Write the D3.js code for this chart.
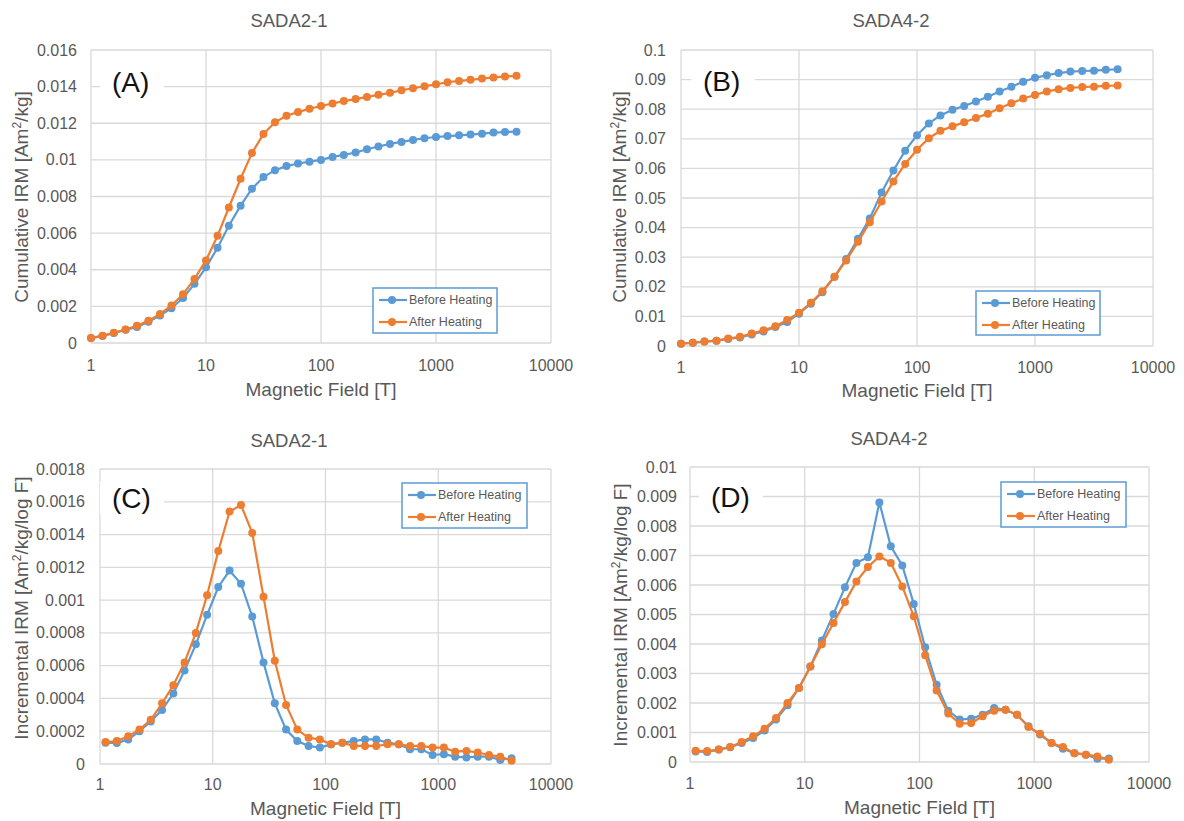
<!DOCTYPE html>
<html><head><meta charset="utf-8">
<script src="https://cdn.jsdelivr.net/npm/d3@7"></script>
<style>
html,body{margin:0;padding:0;background:#fff;}
text{font-family:"Liberation Sans",Arial,sans-serif;}
</style></head>
<body>
<svg id="chart" width="1184" height="821"></svg>
<script>
// ---------- data ----------
const cumFields = [1,1.26,1.58,2,2.51,3.16,3.98,5.01,6.31,7.94,10,12.6,15.8,20,25.1,31.6,39.8,50.1,63.1,79.4,100,126,158,200,251,316,398,501,631,794,1000,1259,1585,1995,2512,3162,3981,5012];
const incFields = [1.12,1.41,1.78,2.24,2.82,3.55,4.47,5.62,7.08,8.91,11.2,14.1,17.8,22.4,28.2,35.5,44.7,56.2,70.8,89.1,112,141,178,224,282,355,447,562,708,891,1122,1413,1778,2239,2818,3548,4467];

const cumA_before = [0.00027,0.00038,0.00054,0.00072,0.00087,0.00116,0.0015,0.0019,0.00246,0.00323,0.00413,0.0052,0.0064,0.0075,0.00843,0.00906,0.00944,0.00966,0.0098,0.0099,0.0100,0.01016,0.01027,0.0104,0.01058,0.01073,0.01087,0.01098,0.01109,0.01118,0.01125,0.0113,0.01134,0.01138,0.01143,0.01149,0.01152,0.01154];
const cumA_after = [0.00027,0.0004,0.00056,0.00074,0.00094,0.00121,0.00158,0.00205,0.00266,0.0035,0.00451,0.00585,0.0074,0.00897,0.01038,0.01141,0.01205,0.01241,0.01261,0.01279,0.01294,0.01308,0.01321,0.01332,0.01344,0.01355,0.01366,0.0138,0.01391,0.01402,0.01413,0.01424,0.01431,0.01437,0.01444,0.0145,0.01455,0.01459];

const cumB_before = [0.0008,0.0011,0.0015,0.0018,0.0024,0.0029,0.0039,0.0049,0.0064,0.0081,0.0109,0.0143,0.0182,0.0234,0.0294,0.0362,0.0431,0.0519,0.0593,0.066,0.0712,0.0752,0.0779,0.0798,0.0811,0.0826,0.0842,0.086,0.0876,0.0893,0.0906,0.0915,0.0922,0.0927,0.0929,0.093,0.0933,0.0935];
const cumB_after = [0.0008,0.0011,0.0015,0.0018,0.0025,0.0031,0.0042,0.0053,0.0067,0.0088,0.0112,0.0146,0.0185,0.0234,0.0289,0.0352,0.0418,0.0488,0.0556,0.0615,0.0663,0.0702,0.0727,0.0742,0.0756,0.077,0.0785,0.0803,0.082,0.0836,0.0848,0.086,0.0867,0.0872,0.0875,0.0876,0.0879,0.088];

const incC_before = [0.00013,0.000128,0.00015,0.0002,0.00026,0.00033,0.00043,0.00057,0.00073,0.00091,0.00108,0.00118,0.0011,0.0009,0.00062,0.00037,0.00021,0.00014,0.00011,0.0001,0.00012,0.00013,0.00014,0.00015,0.00015,0.00013,0.00012,0.00009,0.00009,0.000055,0.00006,0.000045,0.00004,0.000045,0.000045,0.000025,0.000035];
const incC_after = [0.000134,0.00014,0.00017,0.00021,0.00027,0.00037,0.00048,0.00062,0.0008,0.00103,0.0013,0.00154,0.00158,0.00141,0.00102,0.00063,0.00036,0.00021,0.00016,0.00015,0.00012,0.00013,0.00011,0.00011,0.00011,0.00012,0.00012,0.00011,0.00011,0.0001,0.0001,0.000075,0.00008,0.00007,0.000055,0.000045,0.00002];

const incD_before = [0.00036,0.00034,0.00042,0.0005,0.00064,0.00081,0.00107,0.00144,0.00192,0.00251,0.00324,0.00412,0.00502,0.00592,0.00675,0.00694,0.0088,0.00731,0.00666,0.00536,0.00389,0.00262,0.00174,0.00144,0.00147,0.0016,0.00183,0.00177,0.0016,0.00121,0.00093,0.00064,0.00045,0.0003,0.00025,0.00011,0.00012];
const incD_after = [0.00038,0.00037,0.00042,0.00051,0.00068,0.00087,0.00113,0.00149,0.002,0.00251,0.00324,0.00399,0.00471,0.00542,0.00612,0.00661,0.00697,0.00675,0.00595,0.00494,0.00362,0.00242,0.00164,0.0013,0.00132,0.00155,0.00174,0.00177,0.0016,0.00119,0.00096,0.00064,0.00051,0.0003,0.00025,0.00019,0.00008];

const xTicks = [1,10,100,1000,10000];
const xTickLabels = ["1","10","100","1000","10000"];
const yTicksA = [0,0.002,0.004,0.006,0.008,0.01,0.012,0.014,0.016];
const yTickLabelsA = ["0","0.002","0.004","0.006","0.008","0.01","0.012","0.014","0.016"];
const yTicksB = [0,0.01,0.02,0.03,0.04,0.05,0.06,0.07,0.08,0.09,0.1];
const yTickLabelsB = ["0","0.01","0.02","0.03","0.04","0.05","0.06","0.07","0.08","0.09","0.1"];
const yTicksC = [0,0.0002,0.0004,0.0006,0.0008,0.001,0.0012,0.0014,0.0016,0.0018];
const yTickLabelsC = ["0","0.0002","0.0004","0.0006","0.0008","0.001","0.0012","0.0014","0.0016","0.0018"];
const yTicksD = [0,0.001,0.002,0.003,0.004,0.005,0.006,0.007,0.008,0.009,0.01];
const yTickLabelsD = ["0","0.001","0.002","0.003","0.004","0.005","0.006","0.007","0.008","0.009","0.01"];

const seriesNames = ["Before Heating","After Heating"];
const seriesColors = ["#5b9bd5","#ed7d31"];
const panelTitles = ["SADA2-1","SADA4-2","SADA2-1","SADA4-2"];
const panelLetters = ["(A)","(B)","(C)","(D)"];
const xTitle = "Magnetic Field [T]";

// ---------- drawing ----------
const svg = d3.select("#chart");
svg.append("rect").attr("width",1184).attr("height",821).attr("fill","#fff");
const GREY = "#595959", GRID = "#d9d9d9";

function drawPanel(o){
  const g = svg.append("g");
  const x = d3.scaleLog().domain([1,10000]).range([o.left,o.right]);
  const y = d3.scaleLinear().domain([0,o.yTicks[o.yTicks.length-1]]).range([o.bottom,o.top]);

  // gridlines
  g.selectAll(".hg").data(o.yTicks).join("line")
    .attr("x1",o.left).attr("x2",o.right)
    .attr("y1",d=>y(d)).attr("y2",d=>y(d))
    .attr("stroke",GRID).attr("stroke-width",1.3);
  g.selectAll(".vg").data(xTicks).join("line")
    .attr("x1",d=>x(d)).attr("x2",d=>x(d))
    .attr("y1",o.top).attr("y2",o.bottom)
    .attr("stroke",GRID).attr("stroke-width",1.3);

  // tick labels
  g.selectAll(".yl").data(o.yTicks).join("text")
    .attr("x",o.yLabelX).attr("y",d=>y(d)).attr("dy","0.35em")
    .attr("text-anchor","end").attr("fill",GREY).attr("font-size",16)
    .text((d,i)=>o.yTickLabels[i]);
  g.selectAll(".xl").data(xTicks).join("text")
    .attr("x",d=>x(d)).attr("y",o.xLabelY).attr("dy","0.35em")
    .attr("text-anchor","middle").attr("fill",GREY).attr("font-size",16)
    .text((d,i)=>xTickLabels[i]);

  // titles
  g.append("text").attr("x",o.titleX).attr("y",o.titleY).attr("dy","0.35em")
    .attr("text-anchor","middle").attr("fill",GREY).attr("font-size",18.5).text(o.title);
  g.append("text").attr("x",(o.left+o.right)/2).attr("y",o.xTitleY).attr("dy","0.35em")
    .attr("text-anchor","middle").attr("fill",GREY).attr("font-size",19).text(xTitle);
  const yt = g.append("text")
    .attr("transform",`translate(${o.yTitleX},${o.yTitleY}) rotate(-90)`)
    .attr("dy","0.35em").attr("text-anchor","middle").attr("fill",GREY).attr("font-size",19);
  yt.append("tspan").text(o.yTitleA);
  yt.append("tspan").attr("font-size",12).attr("dy",-7).text("2");
  yt.append("tspan").attr("dy",7).text(o.yTitleB);

  // panel letter with white box
  g.append("rect").attr("x",o.letterX-12).attr("y",o.letterY-16).attr("width",64).attr("height",32).attr("fill","#fff");
  g.append("text").attr("x",o.letterX).attr("y",o.letterY).attr("dy","0.35em")
    .attr("fill","#111").attr("font-size",28).text(o.letter);

  // series
  const sets = [o.before,o.after];
  sets.forEach((vals,si)=>{
    const pts = vals.map((v,i)=>[o.xs[i],v]);
    g.append("path").datum(pts)
      .attr("d",d3.line().x(d=>x(d[0])).y(d=>y(d[1])))
      .attr("fill","none").attr("stroke",seriesColors[si]).attr("stroke-width",2.2);
    g.selectAll(null).data(pts).join("circle")
      .attr("cx",d=>x(d[0])).attr("cy",d=>y(d[1])).attr("r",4)
      .attr("fill",seriesColors[si]);
  });

  // legend
  const L = o.legend;
  g.append("rect").attr("x",L.x).attr("y",L.y).attr("width",L.w).attr("height",L.h)
    .attr("fill","#fff").attr("stroke","#5b9bd5").attr("stroke-width",1.5);
  seriesNames.forEach((nm,i)=>{
    const yy = L.y + 12 + i*22;
    g.append("line").attr("x1",L.x+6).attr("x2",L.x+34).attr("y1",yy).attr("y2",yy)
      .attr("stroke",seriesColors[i]).attr("stroke-width",2.2);
    g.append("circle").attr("cx",L.x+19).attr("cy",yy).attr("r",4).attr("fill",seriesColors[i]);
    g.append("text").attr("x",L.x+36).attr("y",yy).attr("dy","0.35em")
      .attr("fill",GREY).attr("font-size",12.5).text(nm);
  });
}

drawPanel({left:91,right:551,top:50,bottom:343,xs:cumFields,before:cumA_before,after:cumA_after,
  yTicks:yTicksA,yTickLabels:yTickLabelsA,yLabelX:77,xLabelY:365,title:panelTitles[0],titleX:289,titleY:21,
  xTitleY:389,yTitleX:21,yTitleY:197,yTitleA:"Cumulative IRM [Am",yTitleB:"/kg]",
  letter:panelLetters[0],letterX:112,letterY:82,legend:{x:373,y:288,w:124,h:45}});
drawPanel({left:681,right:1153,top:50,bottom:346,xs:cumFields,before:cumB_before,after:cumB_after,
  yTicks:yTicksB,yTickLabels:yTickLabelsB,yLabelX:666,xLabelY:367,title:panelTitles[1],titleX:891,titleY:21,
  xTitleY:390,yTitleX:619,yTitleY:197,yTitleA:"Cumulative IRM [Am",yTitleB:"/kg]",
  letter:panelLetters[1],letterX:703,letterY:81,legend:{x:976,y:291,w:124,h:44}});
drawPanel({left:100,right:551,top:469,bottom:764,xs:incFields,before:incC_before,after:incC_after,
  yTicks:yTicksC,yTickLabels:yTickLabelsC,yLabelX:85,xLabelY:784,title:panelTitles[2],titleX:289,titleY:441,
  xTitleY:808,yTitleX:21,yTitleY:608,yTitleA:"Incremental IRM [Am",yTitleB:"/kg/log F]",
  letter:panelLetters[2],letterX:112,letterY:498,legend:{x:402,y:483,w:125,h:45}});
drawPanel({left:690,right:1149,top:467,bottom:762,xs:incFields,before:incD_before,after:incD_after,
  yTicks:yTicksD,yTickLabels:yTickLabelsD,yLabelX:677,xLabelY:783,title:panelTitles[3],titleX:889,titleY:439,
  xTitleY:807,yTitleX:620,yTitleY:615,yTitleA:"Incremental IRM [Am",yTitleB:"/kg/log F]",
  letter:panelLetters[3],letterX:711,letterY:497,legend:{x:1001,y:482,w:125,h:45}});
</script>
</body></html>
